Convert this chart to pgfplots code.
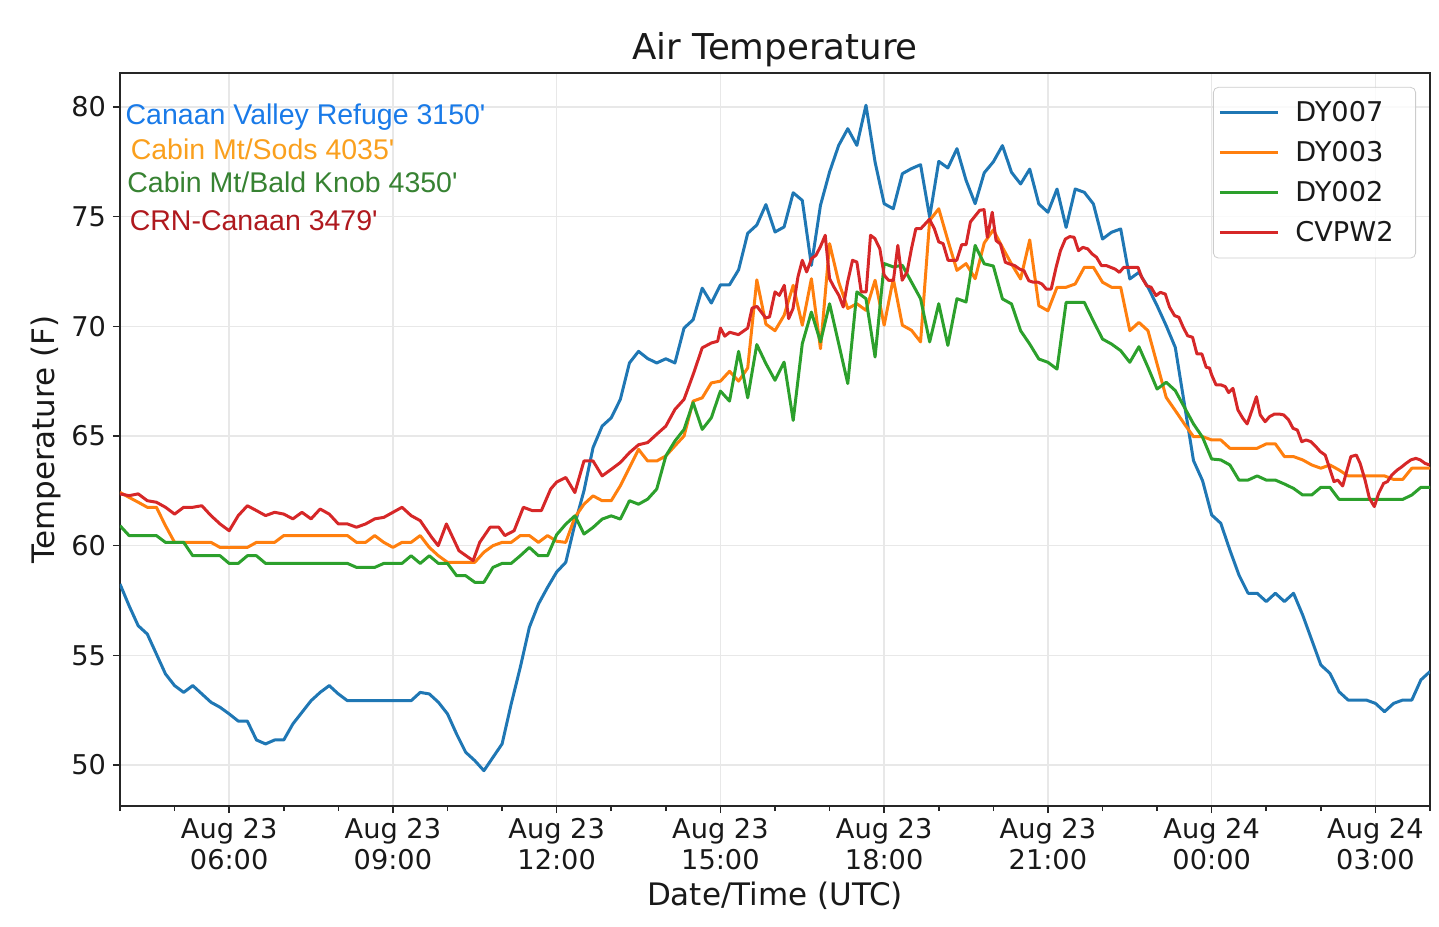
\documentclass[border=0pt]{standalone}
\usepackage{fontspec}
\setmainfont{DejaVu Sans}
\newfontfamily\annfont{Liberation Sans}
\usepackage{pgfplots}
\usepackage{pgfplotstable}
\pgfplotsset{compat=1.18}
\definecolor{c0}{RGB}{31,119,180}
\definecolor{c1}{RGB}{255,127,14}
\definecolor{c2}{RGB}{44,160,44}
\definecolor{c3}{RGB}{214,39,40}
\definecolor{annblue}{RGB}{25,122,232}
\definecolor{annorange}{RGB}{250,160,30}
\definecolor{anngreen}{RGB}{55,130,50}
\definecolor{annred}{RGB}{175,25,30}

\pgfplotstableread{
h v
4.0 58.25
4.1667 57.26
4.3333 56.35
4.5 55.97
4.6667 55.06
4.8333 54.15
5.0 53.62
5.1667 53.31
5.3333 53.62
5.5 53.24
5.6667 52.86
5.8333 52.63
6.0 52.33
6.1667 52.0
6.3333 52.0
6.5 51.14
6.6667 50.96
6.8333 51.14
7.0 51.14
7.1667 51.87
7.3333 52.4
7.5 52.93
7.6667 53.31
7.8333 53.62
8.0 53.24
8.1667 52.93
8.3333 52.93
8.5 52.93
8.6667 52.93
8.8333 52.93
9.0 52.93
9.1667 52.93
9.3333 52.93
9.5 53.31
9.6667 53.24
9.8333 52.86
10.0 52.33
10.1667 51.41
10.3333 50.58
10.5 50.2
10.6667 49.74
10.8333 50.35
11.0 50.96
11.1667 52.78
11.3333 54.45
11.5 56.28
11.6667 57.34
11.8333 58.1
12.0 58.8
12.1667 59.24
12.3333 60.98
12.5 62.5
12.6667 64.47
12.8333 65.45
13.0 65.83
13.1667 66.67
13.3333 68.33
13.5 68.86
13.6667 68.53
13.8333 68.33
14.0 68.52
14.1667 68.33
14.3333 69.92
14.5 70.3
14.6667 71.74
14.8333 71.06
15.0 71.89
15.1667 71.89
15.3333 72.58
15.5 74.24
15.6667 74.62
15.8333 75.55
16.0 74.3
16.1667 74.53
16.3333 76.09
16.5 75.74
16.6667 72.78
16.8333 75.52
17.0 77.04
17.1667 78.25
17.3333 79.01
17.5 78.25
17.6667 80.08
17.8333 77.49
18.0 75.59
18.1667 75.36
18.3333 76.96
18.5 77.19
18.6667 77.37
18.8333 74.98
19.0 77.52
19.1667 77.22
19.3333 78.1
19.5 76.66
19.6667 75.59
19.8333 77.0
20.0 77.5
20.1667 78.24
20.3333 77.02
20.5 76.49
20.6667 77.17
20.8333 75.58
21.0 75.2
21.1667 76.26
21.3333 74.51
21.5 76.26
21.6667 76.11
21.8333 75.58
22.0 73.98
22.1667 74.29
22.3333 74.44
22.5 72.16
22.6667 72.46
22.8333 71.78
23.0 70.94
23.1667 70.03
23.3333 69.04
23.5 66.46
23.6667 63.88
23.8333 62.96
24.0 61.4
24.1667 61.02
24.3333 59.8
24.5 58.66
24.6667 57.83
24.8333 57.83
25.0 57.45
25.1667 57.83
25.3333 57.45
25.5 57.83
25.6667 56.84
25.8333 55.7
26.0 54.56
26.1667 54.18
26.3333 53.34
26.5 52.96
26.6667 52.96
26.8333 52.96
27.0 52.81
27.1667 52.43
27.3333 52.81
27.5 52.96
27.6667 52.96
27.8333 53.88
28.0 54.26
}\dyseven

\pgfplotstableread{
h v
4.0 62.43
4.1667 62.2
4.3333 61.98
4.5 61.75
4.6667 61.75
4.8333 60.91
5.0 60.15
5.1667 60.15
5.3333 60.15
5.5 60.15
5.6667 60.15
5.8333 59.92
6.0 59.92
6.1667 59.92
6.3333 59.92
6.5 60.15
6.6667 60.15
6.8333 60.15
7.0 60.46
7.1667 60.46
7.3333 60.46
7.5 60.46
7.6667 60.46
7.8333 60.46
8.0 60.46
8.1667 60.46
8.3333 60.15
8.5 60.15
8.6667 60.46
8.8333 60.15
9.0 59.92
9.1667 60.15
9.3333 60.15
9.5 60.46
9.6667 59.92
9.8333 59.54
10.0 59.24
10.1667 59.24
10.3333 59.24
10.5 59.24
10.6667 59.7
10.8333 60.0
11.0 60.15
11.1667 60.15
11.3333 60.46
11.5 60.46
11.6667 60.15
11.8333 60.46
12.0 60.2
12.1667 60.15
12.3333 61.29
12.5 61.89
12.6667 62.27
12.8333 62.05
13.0 62.05
13.1667 62.73
13.3333 63.56
13.5 64.39
13.6667 63.86
13.8333 63.86
14.0 64.09
14.1667 64.55
14.3333 65.0
14.5 66.59
14.6667 66.74
14.8333 67.42
15.0 67.5
15.1667 67.95
15.3333 67.5
15.5 68.1
15.6667 72.12
15.8333 70.1
16.0 69.8
16.1667 70.5
16.3333 71.87
16.5 70.05
16.6667 72.17
16.8333 68.98
17.0 73.77
17.1667 72.02
17.3333 70.81
17.5 71.03
17.6667 70.73
17.8333 72.1
18.0 70.05
18.1667 72.17
18.3333 70.05
18.5 69.82
18.6667 69.29
18.8333 74.83
19.0 75.36
19.1667 73.92
19.3333 72.55
19.5 72.86
19.6667 72.17
19.8333 73.8
20.0 74.4
20.1667 73.6
20.3333 72.84
20.5 72.16
20.6667 73.94
20.8333 70.94
21.0 70.71
21.1667 71.78
21.3333 71.78
21.5 71.93
21.6667 72.69
21.8333 72.69
22.0 72.01
22.1667 71.78
22.3333 71.78
22.5 69.8
22.6667 70.18
22.8333 69.8
23.0 68.28
23.1667 66.76
23.3333 66.16
23.5 65.55
23.6667 64.97
23.8333 64.97
24.0 64.82
24.1667 64.82
24.3333 64.44
24.5 64.44
24.6667 64.44
24.8333 64.44
25.0 64.64
25.1667 64.64
25.3333 64.06
25.5 64.06
25.6667 63.91
25.8333 63.68
26.0 63.53
26.1667 63.68
26.3333 63.45
26.5 63.18
26.6667 63.18
26.8333 63.18
27.0 63.18
27.1667 63.18
27.3333 63.02
27.5 63.02
27.6667 63.53
27.8333 63.53
28.0 63.53
}\dythree

\pgfplotstableread{
h v
4.0 60.91
4.1667 60.46
4.3333 60.46
4.5 60.46
4.6667 60.46
4.8333 60.15
5.0 60.15
5.1667 60.15
5.3333 59.54
5.5 59.54
5.6667 59.54
5.8333 59.54
6.0 59.19
6.1667 59.19
6.3333 59.54
6.5 59.54
6.6667 59.19
6.8333 59.19
7.0 59.19
7.1667 59.19
7.3333 59.19
7.5 59.19
7.6667 59.19
7.8333 59.19
8.0 59.19
8.1667 59.19
8.3333 59.01
8.5 59.01
8.6667 59.01
8.8333 59.19
9.0 59.19
9.1667 59.19
9.3333 59.54
9.5 59.19
9.6667 59.54
9.8333 59.19
10.0 59.19
10.1667 58.63
10.3333 58.63
10.5 58.33
10.6667 58.33
10.8333 59.01
11.0 59.19
11.1667 59.19
11.3333 59.54
11.5 59.92
11.6667 59.54
11.8333 59.54
12.0 60.5
12.1667 60.98
12.3333 61.36
12.5 60.53
12.6667 60.83
12.8333 61.21
13.0 61.36
13.1667 61.21
13.3333 62.05
13.5 61.89
13.6667 62.12
13.8333 62.58
14.0 64.09
14.1667 64.77
14.3333 65.3
14.5 66.52
14.6667 65.3
14.8333 65.83
15.0 67.05
15.1667 66.59
15.3333 68.86
15.5 66.74
15.6667 69.17
15.8333 68.3
16.0 67.54
16.1667 68.37
16.3333 65.71
16.5 69.21
16.6667 70.65
16.8333 69.29
17.0 71.03
17.1667 69.21
17.3333 67.39
17.5 71.57
17.6667 71.26
17.8333 68.6
18.0 72.86
18.1667 72.71
18.3333 72.78
18.5 72.02
18.6667 71.26
18.8333 69.29
19.0 71.03
19.1667 69.13
19.3333 71.26
19.5 71.11
19.6667 73.69
19.8333 72.85
20.0 72.75
20.1667 71.25
20.3333 71.02
20.5 69.8
20.6667 69.19
20.8333 68.51
21.0 68.36
21.1667 68.05
21.3333 71.09
21.5 71.09
21.6667 71.09
21.8333 70.24
22.0 69.42
22.1667 69.19
22.3333 68.89
22.5 68.36
22.6667 69.07
22.8333 68.13
23.0 67.14
23.1667 67.45
23.3333 67.07
23.5 66.31
23.6667 65.55
23.8333 64.94
24.0 63.95
24.1667 63.91
24.3333 63.68
24.5 62.99
24.6667 62.99
24.8333 63.18
25.0 62.99
25.1667 62.99
25.3333 62.81
25.5 62.61
25.6667 62.31
25.8333 62.31
26.0 62.66
26.1667 62.66
26.3333 62.11
26.5 62.11
26.6667 62.11
26.8333 62.11
27.0 62.11
27.1667 62.11
27.3333 62.11
27.5 62.11
27.6667 62.31
27.8333 62.66
28.0 62.66
}\dytwo

\pgfplotstableread{
h v
4.0 62.36
4.1667 62.28
4.3333 62.36
4.5 62.05
4.6667 61.98
4.8333 61.75
5.0 61.44
5.1667 61.75
5.3333 61.75
5.5 61.82
5.6667 61.37
5.8333 60.99
6.0 60.68
6.1667 61.37
6.3333 61.82
6.5 61.6
6.6667 61.37
6.8333 61.52
7.0 61.44
7.1667 61.22
7.3333 61.52
7.5 61.22
7.6667 61.67
7.8333 61.44
8.0 60.99
8.1667 60.99
8.3333 60.84
8.5 60.99
8.6667 61.22
8.8333 61.29
9.0 61.52
9.1667 61.75
9.3333 61.37
9.5 61.14
9.71 60.38
9.83 60.0
9.98 60.99
10.21 59.77
10.38 59.47
10.47 59.32
10.59 60.15
10.78 60.84
10.94 60.84
11.05 60.46
11.22 60.68
11.39 61.75
11.55 61.6
11.72 61.6
11.89 62.58
12.0 62.9
12.1667 63.11
12.3333 62.42
12.5 63.86
12.6667 63.86
12.8333 63.18
13.0 63.48
13.1667 63.79
13.3333 64.24
13.5 64.6
13.6667 64.7
13.8333 65.08
14.0 65.45
14.1667 66.21
14.3333 66.67
14.5 67.8
14.6667 69.02
14.8333 69.24
14.95 69.32
15.0 69.92
15.08 69.55
15.17 69.73
15.33 69.62
15.5 69.92
15.58 70.83
15.67 70.91
15.83 70.38
15.9 70.43
16.0 71.57
16.08 71.41
16.17 71.87
16.25 70.35
16.33 70.81
16.42 72.25
16.5 73.01
16.58 72.48
16.67 73.09
16.75 73.24
16.83 73.62
16.92 74.15
17.0 72.17
17.08 71.79
17.17 71.41
17.25 70.88
17.33 72.02
17.42 73.01
17.5 72.93
17.58 71.57
17.67 71.57
17.75 74.15
17.83 74.0
17.92 73.54
18.0 72.33
18.08 72.1
18.17 72.1
18.25 73.69
18.33 72.1
18.42 72.48
18.5 73.54
18.58 74.45
18.67 74.45
18.83 74.88
18.92 74.45
19.0 73.85
19.08 73.77
19.17 73.01
19.33 73.01
19.42 73.72
19.5 73.72
19.58 74.76
19.75 75.29
19.83 75.32
19.89 74.06
19.98 75.2
20.05 73.91
20.13 73.75
20.22 72.92
20.3 72.84
20.39 72.77
20.48 72.61
20.56 72.54
20.65 72.08
20.73 72.01
20.82 72.01
20.89 71.93
20.97 71.7
21.06 71.7
21.15 72.69
21.23 73.45
21.32 73.98
21.4 74.09
21.48 74.06
21.56 73.45
21.64 73.6
21.73 73.53
21.81 73.3
21.89 73.15
21.98 72.77
22.07 72.77
22.15 72.69
22.23 72.61
22.31 72.46
22.39 72.69
22.48 72.69
22.56 72.69
22.65 72.69
22.72 72.23
22.81 71.85
22.89 71.78
22.98 71.4
23.06 71.55
23.15 71.47
23.23 70.87
23.32 70.49
23.4 70.41
23.48 69.95
23.56 69.57
23.65 69.5
23.73 68.74
23.82 68.74
23.9 68.13
23.96 68.1
24.0 67.78
24.08 67.33
24.17 67.33
24.25 67.25
24.31 66.98
24.39 67.17
24.48 66.19
24.57 65.81
24.65 65.55
24.74 66.19
24.82 66.79
24.89 65.96
24.98 65.65
25.06 65.88
25.15 66.0
25.24 66.0
25.32 65.96
25.41 65.73
25.49 65.35
25.57 65.27
25.65 64.74
25.73 64.82
25.82 64.74
25.9 64.54
25.99 64.29
26.08 64.13
26.16 63.53
26.24 62.92
26.31 62.99
26.4 62.72
26.48 63.45
26.55 64.06
26.65 64.13
26.72 63.75
26.81 62.99
26.89 62.16
26.98 61.78
27.06 62.39
27.15 62.84
27.22 62.92
27.3 63.22
27.4 63.45
27.47 63.57
27.56 63.75
27.65 63.91
27.74 63.98
27.82 63.91
27.91 63.75
27.99 63.68
}\cvpw

\begin{document}
\begin{tikzpicture}
\begin{axis}[
  at={(0,0)}, anchor=south west,
  scale only axis, width=655pt, height=366.5pt,
  xmin=4, xmax=28, ymin=48.13, ymax=81.55,
  xtick={6,9,12,15,18,21,24,27},
  xticklabels={{Aug 23\\06:00},{Aug 23\\09:00},{Aug 23\\12:00},{Aug 23\\15:00},{Aug 23\\18:00},{Aug 23\\21:00},{Aug 24\\00:00},{Aug 24\\03:00}},
  minor xtick={4,5,7,8,10,11,13,14,16,17,19,20,22,23,25,26,28},
  ytick={50,55,60,65,70,75,80},
  tick align=outside, xtick pos=left, ytick pos=left,
  major tick length=3.5pt, minor tick length=2.5pt,
  every tick/.style={black!85, line width=0.8pt},
  xmajorgrids, ymajorgrids,
  major grid style={black!9, line width=0.8pt},
  axis line style={black!85, line width=0.8pt},
  ticklabel style={font=\fontsize{13.6}{15.5}\selectfont, text=black!90},
  xticklabel style={align=center, inner sep=2.5pt},
  /pgf/number format/assume math mode=true,
  title={Air Temperature},
  title style={font=\fontsize{17.8}{20}\selectfont, at={(axis description cs:0.5,1.015)}, anchor=center, text=black!90},
  xlabel={Date/Time (UTC)},
  xlabel style={font=\fontsize{15.5}{18}\selectfont, at={(axis description cs:0.5,-0.1228)}, anchor=center, text=black!90},
  ylabel={Temperature (F)},
  ylabel style={font=\fontsize{15.5}{18}\selectfont, at={(axis description cs:-0.0565,0.5)}, anchor=center, text=black!90},
  legend style={at={(axis description cs:0.9893,0.981)}, anchor=north east,
    draw=black!20, rounded corners=2.5pt, fill=white, fill opacity=0.8, text opacity=1,
    font=\fontsize{13.6}{15}\selectfont, text=black!90, row sep=4.5pt, column sep=6pt,
    inner xsep=2.5pt, inner ysep=4.75pt, cells={anchor=west}},
  legend image code/.code={\draw[#1, line width=1.5pt] (0pt,0pt) -- (29pt,0pt);},
  every axis plot/.append style={line width=1.5pt, line join=round},
]
\addplot[c0] table[x=h,y=v] {\dyseven};
\addlegendentry{DY007\hspace*{6.5pt}}
\addplot[c1] table[x=h,y=v] {\dythree};
\addlegendentry{DY003\hspace*{6.5pt}}
\addplot[c2] table[x=h,y=v] {\dytwo};
\addlegendentry{DY002\hspace*{6.5pt}}
\addplot[c3] table[x=h,y=v] {\cvpw};
\addlegendentry{CVPW2\hspace*{6.5pt}}
\node[anchor=base west, inner sep=0pt, font=\annfont\fontsize{14.25}{16}\selectfont, text=annblue] at (axis description cs:0.004,0.930) {Canaan Valley Refuge 3150'};
\node[anchor=base west, inner sep=0pt, font=\annfont\fontsize{14.25}{16}\selectfont, text=annorange] at (axis description cs:0.0079,0.8823) {Cabin Mt/Sods 4035'};
\node[anchor=base west, inner sep=0pt, font=\annfont\fontsize{14.25}{16}\selectfont, text=anngreen] at (axis description cs:0.0053,0.8367) {Cabin Mt/Bald Knob 4350'};
\node[anchor=base west, inner sep=0pt, font=\annfont\fontsize{14.25}{16}\selectfont, text=annred] at (axis description cs:0.0072,0.7849) {CRN-Canaan 3479'};
\end{axis}
\pgfresetboundingbox
\path[use as bounding box] (-60pt,-60pt) rectangle (659.5pt,403pt);
\end{tikzpicture}
\end{document}
